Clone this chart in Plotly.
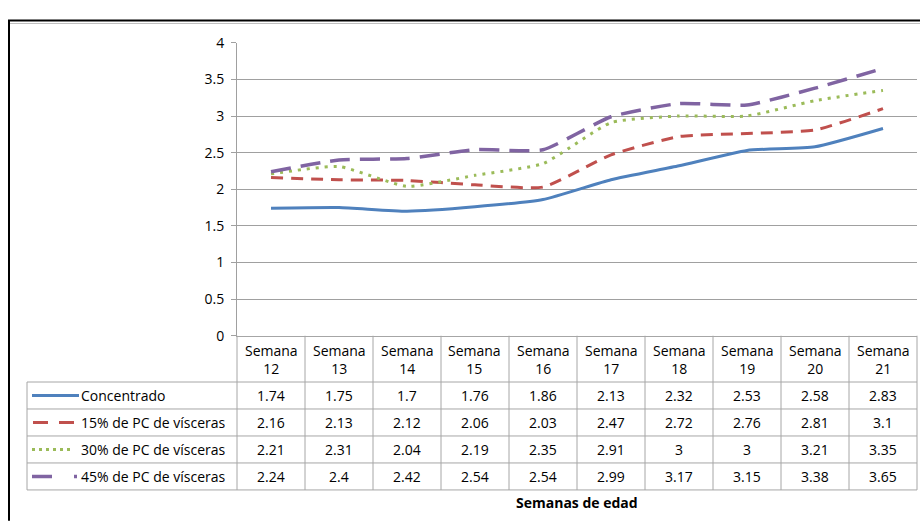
import plotly.graph_objects as go

# ---- data ----
weeks = ["Semana 12", "Semana 13", "Semana 14", "Semana 15", "Semana 16",
         "Semana 17", "Semana 18", "Semana 19", "Semana 20", "Semana 21"]
series_names = ["Concentrado", "15% de PC de vísceras", "30% de PC de vísceras", "45% de PC de vísceras"]
concentrado = [1.74, 1.75, 1.7, 1.76, 1.86, 2.13, 2.32, 2.53, 2.58, 2.83]
pc15 = [2.16, 2.13, 2.12, 2.06, 2.03, 2.47, 2.72, 2.76, 2.81, 3.1]
pc30 = [2.21, 2.31, 2.04, 2.19, 2.35, 2.91, 3, 3, 3.21, 3.35]
pc45 = [2.24, 2.4, 2.42, 2.54, 2.54, 2.99, 3.17, 3.15, 3.38, 3.65]
y_ticks = [0, 0.5, 1, 1.5, 2, 2.5, 3, 3.5, 4]
x_title = "Semanas de edad"

values = [concentrado, pc15, pc30, pc45]
colors = ["#4F81BD", "#C0504D", "#9BBB59", "#8064A2"]
dashes = ["solid", "12px,8px", "3px,6px", "20px,10px"]
widths = [3, 3, 3, 3.5]
legend_dashes = ["solid", "15px,11px", "3px,4px", "20px,22px,3px,10px"]
legend_x = [(32, 79), (33, 74), (32, 74), (32, 79)]

# ---- layout geometry (pixels) ----
W, H = 920, 524
PX0, PX1 = 237, 917
PY0, PY1 = 34, 338
TL = 27
HDR = 386
RH = 28
GRID = "#A0A0A0"
TBL = "#A6A6A6"
FONT = "'Open Sans', Lato, sans-serif"
FS = 14


def px(x):
    return x / W


def py(y):
    return 1 - y / H


fig = go.Figure()
xi = list(range(len(weeks)))
for name, vals, c, d, w in zip(series_names, values, colors, dashes, widths):
    fig.add_trace(go.Scatter(
        x=xi, y=vals, name=name, mode="lines",
        line=dict(color=c, dash=d, width=w, shape="spline", smoothing=0.5),
        showlegend=False, hoverinfo="y"))

shapes = []
annotations = []
ncol = len(weeks)
cw = (PX1 - PX0) / ncol

# outer frame
shapes.append(dict(type="line", xref="paper", yref="paper", x0=px(8), x1=px(921), y0=py(11), y1=py(11),
                   line=dict(color="#000000", width=2)))
shapes.append(dict(type="line", xref="paper", yref="paper", x0=px(9), x1=px(9), y0=py(11), y1=py(530),
                   line=dict(color="#000000", width=2)))
shapes.append(dict(type="line", xref="paper", yref="paper", x0=px(10), x1=px(921), y0=py(14), y1=py(14),
                   line=dict(color="#BFBFBF", width=1)))

# table horizontal lines
bottom = HDR + RH * len(series_names)
for k in range(len(series_names) + 1):
    yy = HDR + RH * k
    shapes.append(dict(type="line", xref="paper", yref="paper", x0=px(TL), x1=px(PX1), y0=py(yy), y1=py(yy),
                       line=dict(color=TBL, width=1)))
# table vertical lines
shapes.append(dict(type="line", xref="paper", yref="paper", x0=px(TL), x1=px(TL), y0=py(HDR), y1=py(bottom),
                   line=dict(color=TBL, width=1)))
for j in range(ncol + 1):
    xx = PX0 + cw * j
    shapes.append(dict(type="line", xref="paper", yref="paper", x0=px(xx), x1=px(xx), y0=py(PY1), y1=py(bottom),
                       line=dict(color=TBL, width=1)))

# header
for j, wk in enumerate(weeks):
    cx = PX0 + cw * (j + 0.5)
    annotations.append(dict(xref="paper", yref="paper", x=px(cx), y=py((PY1 + HDR) / 2 + 1),
                            text=wk.replace(" ", "<br>"), showarrow=False,
                            font=dict(size=FS, color="#000000", family=FONT), xanchor="center", yanchor="middle"))

# rows
for i, (name, vals, c, ld, w, lx) in enumerate(zip(series_names, values, colors, legend_dashes, widths, legend_x)):
    cy = HDR + RH * (i + 0.5)
    shapes.append(dict(type="line", xref="paper", yref="paper", x0=px(lx[0]), x1=px(lx[1]), y0=py(cy), y1=py(cy),
                       line=dict(color=c, dash=ld, width=w)))
    annotations.append(dict(xref="paper", yref="paper", x=px(79), y=py(cy), text=name, showarrow=False,
                            font=dict(size=FS, color="#000000", family=FONT), xanchor="left", yanchor="middle"))
    for j, v in enumerate(vals):
        cx = PX0 + cw * (j + 0.5)
        annotations.append(dict(xref="paper", yref="paper", x=px(cx), y=py(cy), text=f"{v:g}", showarrow=False,
                                font=dict(size=FS, color="#000000", family=FONT), xanchor="center", yanchor="middle"))

annotations.append(dict(xref="paper", yref="paper", x=px((PX0 + PX1) / 2), y=py(511), text=f"<b>{x_title}</b>",
                        showarrow=False, font=dict(size=FS, color="#000000", family=FONT),
                        xanchor="center", yanchor="middle"))

fig.update_layout(
    width=W, height=H, margin=dict(l=0, r=0, t=0, b=0),
    paper_bgcolor="white", plot_bgcolor="white",
    font=dict(family=FONT, size=FS, color="#000000"),
    xaxis=dict(domain=[px(PX0), px(PX1)], range=[-0.5, ncol - 0.5], showgrid=False, showticklabels=False,
               zeroline=False, showline=True, linecolor=TBL, linewidth=1, ticks="", fixedrange=True),
    yaxis=dict(domain=[py(PY1), py(PY0)], range=[0, 4], tickvals=y_ticks, ticktext=[f"{t:g}" for t in y_ticks],
               showgrid=True, gridcolor=GRID, gridwidth=1, zeroline=False, showline=True, linecolor=GRID,
               linewidth=1, ticks="outside", ticklen=5, tickcolor=GRID, tickfont=dict(size=FS, family=FONT),
               ticklabelstandoff=4, fixedrange=True),
    shapes=shapes, annotations=annotations,
)

fig.write_html("out.html", config={"displayModeBar": False},
               post_script="document.body.style.margin='0';document.body.style.overflow='hidden';")
